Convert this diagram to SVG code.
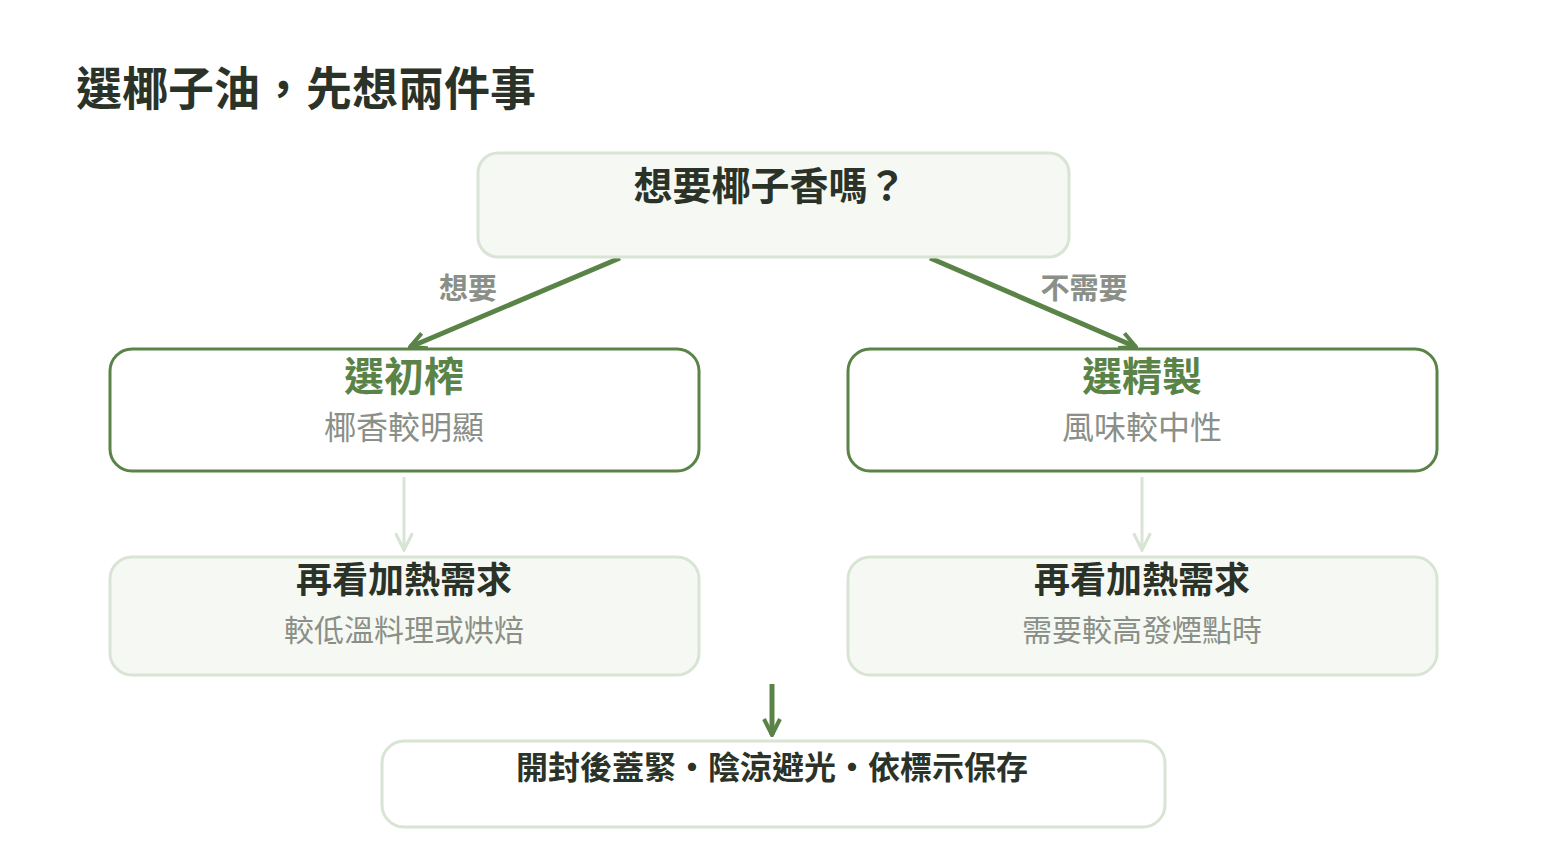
<svg xmlns="http://www.w3.org/2000/svg" width="1546" height="860" viewBox="0 0 1546 860">
<style>
text{font-family:"Noto Sans CJK TC","Noto Sans CJK SC",sans-serif;text-anchor:middle}
.lt{fill:#f6f9f3;stroke:#d8e4d4;stroke-width:3}
.wh{fill:#fff;stroke:#d8e4d4;stroke-width:3}
.gr{fill:#fff;stroke:#5a8447;stroke-width:3}
.h{font-weight:700;fill:#2b3329}
.g{font-weight:700;fill:#5a8447}
.s{fill:#8a8f88}
.lab{font-weight:700;fill:#8a8f88;font-size:29px}
</style>
<defs>
<marker id="ag" viewBox="0 0 10 10" refX="9" refY="5" markerWidth="4" markerHeight="4" orient="auto" markerUnits="strokeWidth"><path d="M1,1 L9,5 L1,9" fill="none" stroke="#5a8447" stroke-width="2"/></marker>
<marker id="al" viewBox="0 0 10 10" refX="9" refY="5" markerWidth="7" markerHeight="7" orient="auto" markerUnits="strokeWidth"><path d="M1,1 L9,5 L1,9" fill="none" stroke="#d8e4d4" stroke-width="1.5"/></marker>
</defs>
<rect width="1546" height="860" fill="#fff"/>
<text x="76" y="105" style="text-anchor:start;font-size:46px" class="h">選椰子油，先想兩件事</text>
<g id="connectors">
<line x1="620" y1="258" x2="410" y2="347" stroke="#5a8447" stroke-width="5" marker-end="url(#ag)"/>
<line x1="930" y1="258" x2="1136" y2="347" stroke="#5a8447" stroke-width="5" marker-end="url(#ag)"/>
<line x1="404" y1="477" x2="404" y2="550" stroke="#d8e4d4" stroke-width="3" marker-end="url(#al)"/>
<line x1="1142" y1="477" x2="1142" y2="550" stroke="#d8e4d4" stroke-width="3" marker-end="url(#al)"/>
<line x1="772" y1="684" x2="772" y2="735" stroke="#5a8447" stroke-width="5" marker-end="url(#ag)"/>
<text x="468" y="299" class="lab">想要</text>
<text x="1084" y="299" class="lab">不需要</text>
</g>
<g id="q"><rect x="478" y="153" width="591" height="104" rx="20" class="lt"/><text x="770" y="200" class="h" style="font-size:39px">想要椰子香嗎？</text></g>
<g id="virgin"><rect x="110" y="349" width="589" height="122" rx="22" class="gr"/><text x="404" y="391" class="g" style="font-size:40px">選初榨</text><text x="404" y="439" class="s" style="font-size:32px">椰香較明顯</text></g>
<g id="refined"><rect x="848" y="349" width="589" height="122" rx="22" class="gr"/><text x="1142" y="391" class="g" style="font-size:40px">選精製</text><text x="1142" y="439" class="s" style="font-size:32px">風味較中性</text></g>
<g id="heatL"><rect x="110" y="557" width="589" height="118" rx="22" class="lt"/><text x="404" y="593" class="h" style="font-size:36px">再看加熱需求</text><text x="404" y="641" class="s" style="font-size:30px">較低溫料理或烘焙</text></g>
<g id="heatR"><rect x="848" y="557" width="589" height="118" rx="22" class="lt"/><text x="1142" y="593" class="h" style="font-size:36px">再看加熱需求</text><text x="1142" y="641" class="s" style="font-size:30px">需要較高發煙點時</text></g>
<g id="store"><rect x="382" y="741" width="783" height="86" rx="22" class="wh"/><text x="772" y="779" class="h" style="font-size:32px">開封後蓋緊・陰涼避光・依標示保存</text></g>
</svg>
